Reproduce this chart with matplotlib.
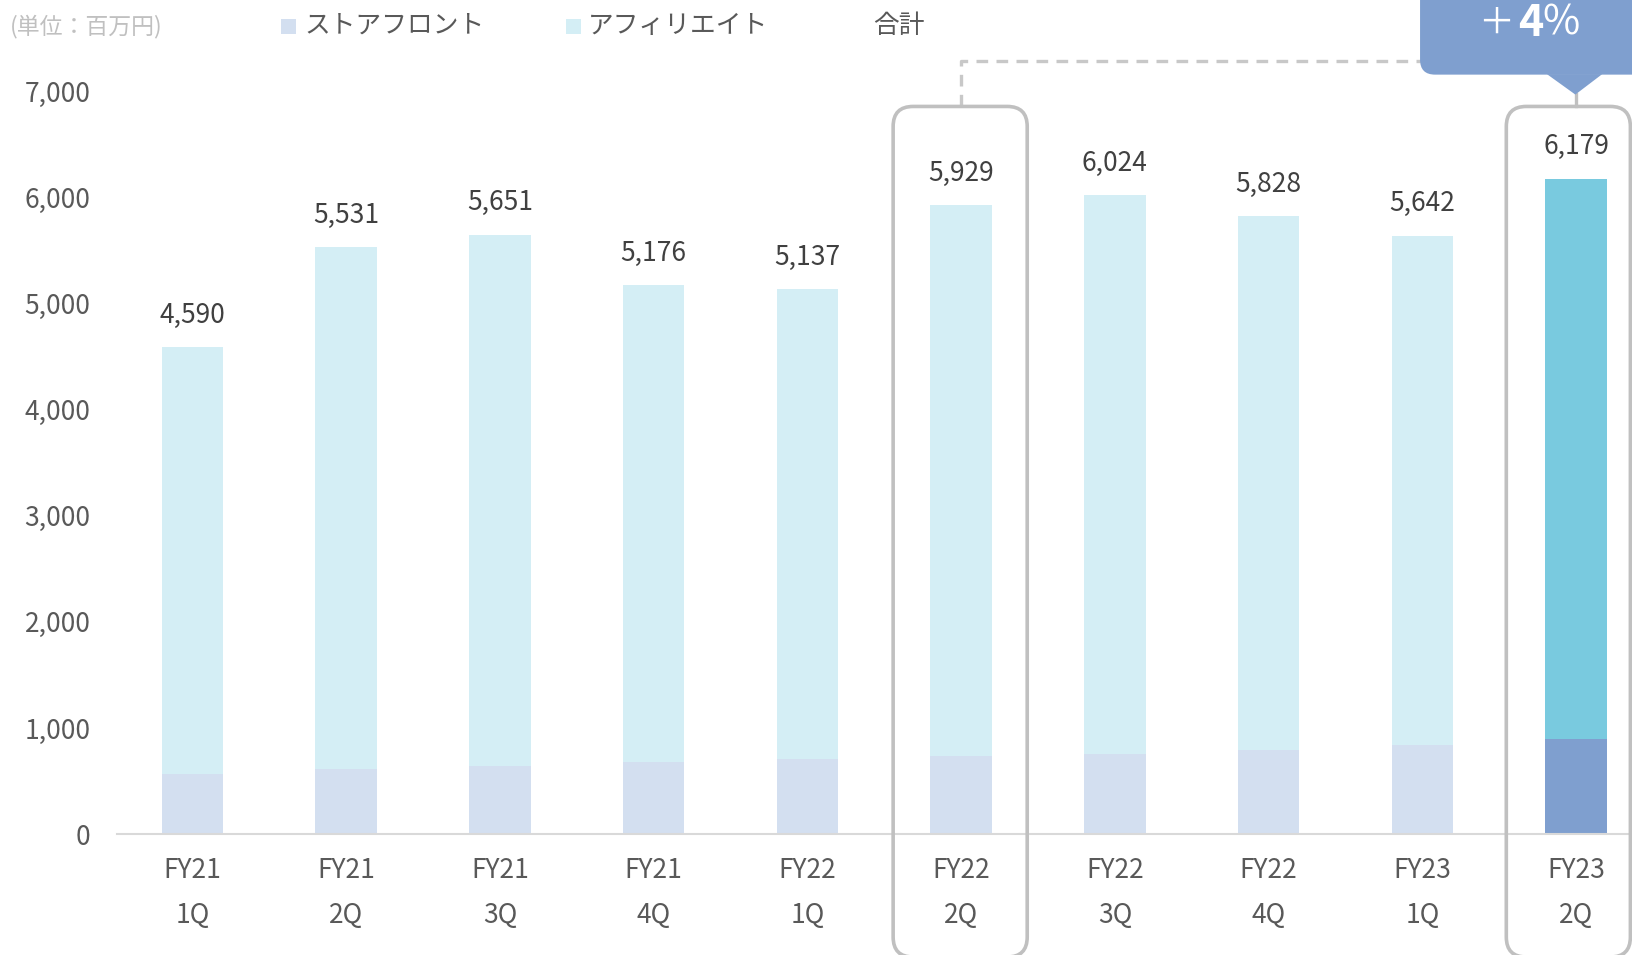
import numpy as np
import matplotlib
matplotlib.use("Agg")
import matplotlib.pyplot as plt
from matplotlib.patches import FancyBboxPatch, Polygon
from matplotlib.transforms import IdentityTransform

plt.rcParams['font.family'] = ['Noto Sans CJK JP', 'DejaVu Sans']

fy = ["FY21", "FY21", "FY21", "FY21", "FY22", "FY22", "FY22", "FY22", "FY23", "FY23"]
qtr = ["1Q", "2Q", "3Q", "4Q", "1Q", "2Q", "3Q", "4Q", "1Q", "2Q"]
total = [4590, 5531, 5651, 5176, 5137, 5929, 6024, 5828, 5642, 6179]
storefront = [569, 616, 641, 682, 707, 736, 755, 792, 840, 896]
affiliate = [t - s for t, s in zip(total, storefront)]
yticks = [0, 1000, 2000, 3000, 4000, 5000, 6000, 7000]

SF_LIGHT = "#d3dff0"
AF_LIGHT = "#d4eef5"
SF_DARK = "#7f9fcf"
AF_DARK = "#79cadf"
TXT = "#404040"
TICK = "#595959"
BOX = "#c0c0c0"

W, H = 1633, 955
fig = plt.figure(figsize=(W / 100, H / 100), dpi=100)
ax = fig.add_axes([117 / W, (H - 834) / H, 1 - 117 / W, (834 - 91.6) / H])
ax.set_xlim(-0.49, 9.37)
ax.set_ylim(0, 7000)

x = np.arange(len(total))
sf_col = [SF_LIGHT] * 9 + [SF_DARK]
af_col = [AF_LIGHT] * 9 + [AF_DARK]
ax.bar(x, storefront, width=0.4, color=sf_col, zorder=2)
ax.bar(x, affiliate, width=0.4, bottom=storefront, color=af_col, zorder=2)

for i, t in enumerate(total):
    ax.annotate(f"{t:,}", xy=(i, t), xytext=(0, 23), textcoords="offset points",
                ha="center", va="center", fontsize=19, color=TXT)
    ax.annotate(fy[i], xy=(i, 0), xytext=(0, -26), textcoords="offset points",
                ha="center", va="center", fontsize=19, color=TICK, annotation_clip=False)
    ax.annotate(qtr[i], xy=(i, 0), xytext=(0, -59), textcoords="offset points",
                ha="center", va="center", fontsize=19, color=TICK, annotation_clip=False)

ax.set_xticks([])
ax.set_yticks(yticks)
ax.set_yticklabels([f"{v:,}" for v in yticks], fontsize=19, color=TICK)
ax.tick_params(axis="y", length=0, pad=19)
for s in ["left", "right", "top"]:
    ax.spines[s].set_visible(False)
ax.spines["bottom"].set_color("#d9d9d9")
ax.spines["bottom"].set_linewidth(1.5)


def px(xd, yd):
    return ax.transData.transform((xd, yd))


# highlight frames (index, left offset, right offset)
for i, lo, hi in [(5, -0.442, 0.43), (9, -0.454, 0.353)]:
    x0, y0 = px(i + lo, -1160)
    x1, y1 = px(i + hi, 6860)
    frame = FancyBboxPatch((x0, y0), x1 - x0, y1 - y0,
                           boxstyle="round,pad=0,rounding_size=20",
                           transform=IdentityTransform(), fill=False,
                           edgecolor=BOX, linewidth=2.6, zorder=3, clip_on=False)
    fig.patches.append(frame)

# dashed connector
ax.plot([5, 5, 7.99], [6860, 7292, 7292], color="#c8c8c8", lw=2.4,
        ls=(0, (3.5, 2.5)), clip_on=False, zorder=1)
ax.plot([9, 9], [6860, 6975], color=BOX, lw=2.4, clip_on=False, zorder=1)

# callout
cx0, cy0 = px(7.985, 7160)
cx1, cy1 = px(9.6, 8200)
callout = FancyBboxPatch((cx0, cy0), cx1 - cx0, cy1 - cy0,
                         boxstyle="round,pad=0,rounding_size=15",
                         transform=IdentityTransform(), facecolor=SF_DARK,
                         edgecolor="none", zorder=4, clip_on=False)
fig.patches.append(callout)
tri = Polygon([(8.81, 7165), (9.17, 7165), (8.995, 6972)], closed=True,
              facecolor=SF_DARK, edgecolor="none", clip_on=False, zorder=4)
ax.add_patch(tri)
fig.text(1496 / W, 1 - 24 / H, "＋", fontsize=26, color="white", ha="center", va="center", zorder=6)
fig.text(1531 / W, 1 - 23 / H, "4", fontsize=31, color="white", weight="bold", ha="center", va="center", zorder=6)
fig.text(1561 / W, 1 - 23 / H, "%", fontsize=29, color="white", ha="center", va="center", zorder=6)

# legend row
fig.text(10 / W, 1 - 26 / H, "(単位：百万円)", fontsize=16.5, color="#c0c0c0", va="center")
fig.patches.append(FancyBboxPatch((281, H - 34), 15, 15, boxstyle="square,pad=0",
                                  transform=IdentityTransform(), facecolor=SF_LIGHT,
                                  edgecolor="none"))
fig.text(304 / W, 1 - 26 / H, "ストアフロント", fontsize=18.5, color=TICK, va="center")
fig.patches.append(FancyBboxPatch((566, H - 34), 15, 15, boxstyle="square,pad=0",
                                  transform=IdentityTransform(), facecolor=AF_LIGHT,
                                  edgecolor="none"))
fig.text(588 / W, 1 - 26 / H, "アフィリエイト", fontsize=18.5, color=TICK, va="center")
fig.text(873 / W, 1 - 26 / H, "合計", fontsize=18.5, color=TICK, va="center")

fig.savefig("out.png", dpi=100)
